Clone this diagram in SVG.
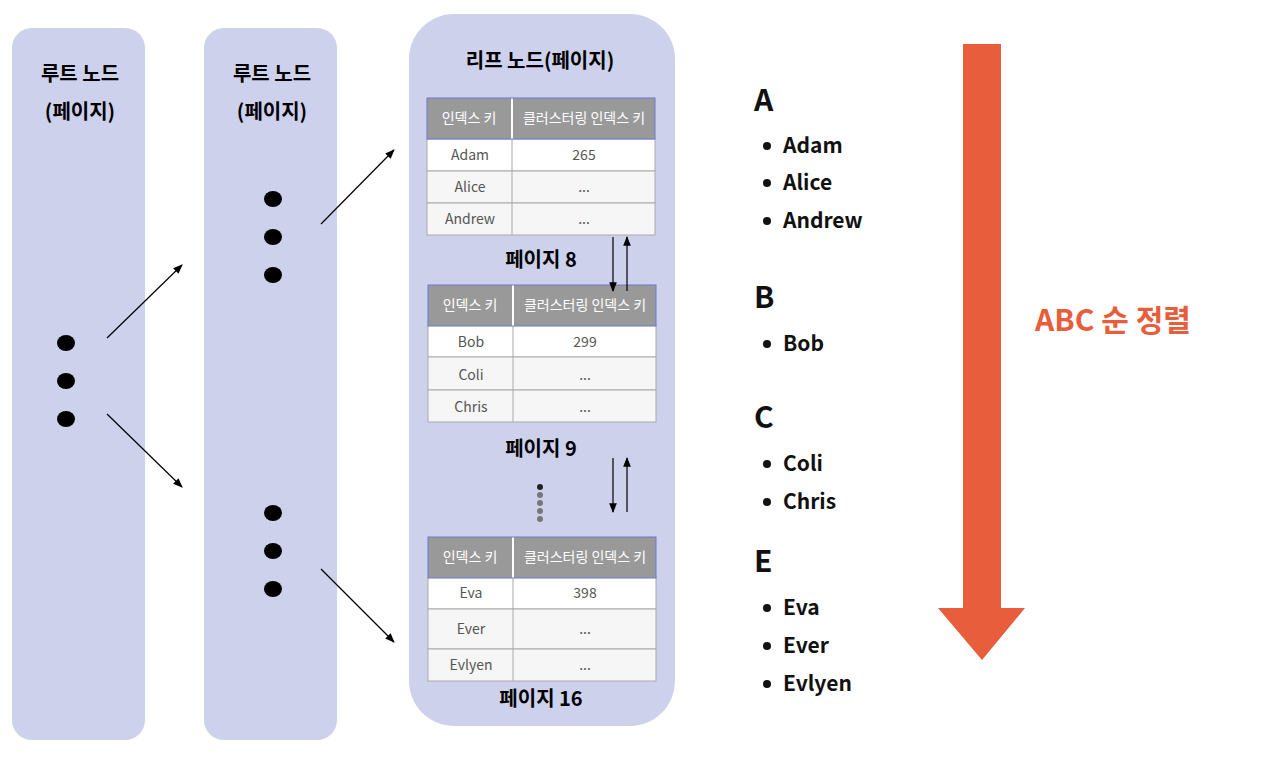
<svg xmlns="http://www.w3.org/2000/svg" width="1280" height="759" viewBox="0 0 1280 759">
<style>
text{font-family:"Noto Sans CJK KR","Noto Sans",sans-serif}
.panel{fill:#cdd1ec}
.t{font-weight:bold;font-size:20px;fill:#000;text-anchor:middle}
.hd{fill:#999}
.hdt{font-size:14px;fill:#fff;text-anchor:middle}
.c{font-size:14px;fill:#555;text-anchor:middle}
.cell{stroke:#aaa;stroke-width:1}
.li{font-weight:bold;font-size:21px;fill:#111}
.big{font-weight:bold;font-size:30px;fill:#111}
.cn line{stroke:#000;stroke-width:1.2}
</style>
<defs>
<marker id="ah" viewBox="0 0 10 10" refX="9" refY="5" markerWidth="8" markerHeight="8" orient="auto"><path d="M0,1 L10,5 L0,9 z" fill="#000"/></marker>
<g id="tbl">
<rect x="0" y="0" width="228" height="41" class="hd"/>
<line x1="85" y1="0" x2="85" y2="41" stroke="#fff" stroke-width="2"/>
<rect x="0" y="0" width="228" height="41" fill="none" stroke="#6a78d0" stroke-width="1"/>
<text x="42" y="25" class="hdt">인덱스 키</text>
<text x="157" y="25" class="hdt">클러스터링 인덱스 키</text>
</g>
</defs>
<rect width="1280" height="759" fill="#fff"/>
<g id="root1"><rect x="12" y="28" width="133" height="712" rx="20" class="panel"/>
<text x="80" y="81" class="t">루트 노드</text><text x="80" y="119" class="t">(페이지)</text>
<ellipse cx="66" cy="343" rx="9" ry="8"/><ellipse cx="66" cy="381" rx="9" ry="8"/><ellipse cx="66" cy="419" rx="9" ry="8"/></g>
<g id="root2"><rect x="204" y="28" width="133" height="712" rx="20" class="panel"/>
<text x="272" y="81" class="t">루트 노드</text><text x="272" y="119" class="t">(페이지)</text>
<ellipse cx="273" cy="199" rx="9" ry="8"/><ellipse cx="273" cy="237" rx="9" ry="8"/><ellipse cx="273" cy="275" rx="9" ry="8"/>
<ellipse cx="273" cy="513" rx="9" ry="8"/><ellipse cx="273" cy="551" rx="9" ry="8"/><ellipse cx="273" cy="589" rx="9" ry="8"/></g>
<g id="leaf"><rect x="409" y="14" width="266" height="712" rx="45" class="panel"/>
<text x="540" y="68" class="t">리프 노드(페이지)</text>
<g id="page8">
<rect x="427" y="139" width="228" height="32" fill="#fff" class="cell"/>
<rect x="427" y="171" width="228" height="32" fill="#f6f6f6" class="cell"/>
<rect x="427" y="203" width="228" height="32" fill="#f6f6f6" class="cell"/>
<line x1="512" y1="139" x2="512" y2="235" class="cell"/>
<use href="#tbl" x="427" y="98"/>
<text x="470" y="160" class="c">Adam</text><text x="584" y="160" class="c">265</text>
<text x="470" y="192" class="c">Alice</text><text x="584" y="192" class="c">...</text>
<text x="470" y="224" class="c">Andrew</text><text x="584" y="224" class="c">...</text>
<text x="541" y="267" class="t">페이지 8</text></g>
<g id="page9">
<rect x="428" y="325" width="228" height="32" fill="#fff" class="cell"/>
<rect x="428" y="357" width="228" height="33" fill="#f6f6f6" class="cell"/>
<rect x="428" y="390" width="228" height="32" fill="#f6f6f6" class="cell"/>
<line x1="513" y1="325" x2="513" y2="422" class="cell"/>
<use href="#tbl" x="428" y="285" transform="translate(0,0)"/>
<text x="471" y="347" class="c">Bob</text><text x="585" y="347" class="c">299</text>
<text x="471" y="380" class="c">Coli</text><text x="585" y="380" class="c">...</text>
<text x="471" y="412" class="c">Chris</text><text x="585" y="412" class="c">...</text>
<text x="541" y="456" class="t">페이지 9</text></g>
<g id="dots"><circle cx="540" cy="487" r="3" fill="#222"/><circle cx="540" cy="495" r="3" fill="#777"/><circle cx="540" cy="503" r="3" fill="#777"/><circle cx="540" cy="511" r="3" fill="#777"/><circle cx="540" cy="519" r="3" fill="#777"/></g>
<g id="page16">
<rect x="428" y="577" width="228" height="32" fill="#fff" class="cell"/>
<rect x="428" y="609" width="228" height="40" fill="#f6f6f6" class="cell"/>
<rect x="428" y="649" width="228" height="32" fill="#f6f6f6" class="cell"/>
<line x1="513" y1="577" x2="513" y2="681" class="cell"/>
<use href="#tbl" x="428" y="537"/>
<text x="471" y="598" class="c">Eva</text><text x="585" y="598" class="c">398</text>
<text x="471" y="634" class="c">Ever</text><text x="585" y="634" class="c">...</text>
<text x="471" y="670" class="c">Evlyen</text><text x="585" y="670" class="c">...</text>
<text x="541" y="706" class="t">페이지 16</text></g>
</g>
<g class="cn" id="connectors">
<line x1="107" y1="338" x2="182" y2="265" marker-end="url(#ah)"/>
<line x1="107" y1="414" x2="182" y2="487" marker-end="url(#ah)"/>
<line x1="321" y1="224" x2="394" y2="150" marker-end="url(#ah)"/>
<line x1="321" y1="569" x2="394" y2="642" marker-end="url(#ah)"/>
<line x1="613" y1="237" x2="613" y2="291" marker-end="url(#ah)"/>
<line x1="627" y1="291" x2="627" y2="237" marker-end="url(#ah)"/>
<line x1="613" y1="458" x2="613" y2="512" marker-end="url(#ah)"/>
<line x1="627" y1="512" x2="627" y2="458" marker-end="url(#ah)"/>
</g>
<g id="list">
<text x="754" y="111" class="big">A</text>
<text x="754" y="308" class="big">B</text>
<text x="754" y="428" class="big">C</text>
<text x="754" y="572" class="big">E</text>
<g fill="#111">
<circle cx="767" cy="146" r="4"/><circle cx="767" cy="183" r="4"/><circle cx="767" cy="221" r="4"/>
<circle cx="767" cy="344" r="4"/><circle cx="767" cy="464" r="4"/><circle cx="767" cy="502" r="4"/>
<circle cx="767" cy="608" r="4"/><circle cx="767" cy="646" r="4"/><circle cx="767" cy="684" r="4"/></g>
<text x="783" y="153" class="li">Adam</text><text x="783" y="190" class="li">Alice</text><text x="783" y="228" class="li">Andrew</text>
<text x="783" y="351" class="li">Bob</text><text x="783" y="471" class="li">Coli</text><text x="783" y="509" class="li">Chris</text>
<text x="783" y="615" class="li">Eva</text><text x="783" y="653" class="li">Ever</text><text x="783" y="691" class="li">Evlyen</text>
</g>
<g id="sortarrow"><path d="M963,44 H1001 V608 H1025 L982,660 L938,608 H963 Z" fill="#e85d3c"/>
<text x="1113" y="331" font-weight="bold" font-size="30" fill="#e85d3c" text-anchor="middle">ABC 순 정렬</text></g>
</svg>
